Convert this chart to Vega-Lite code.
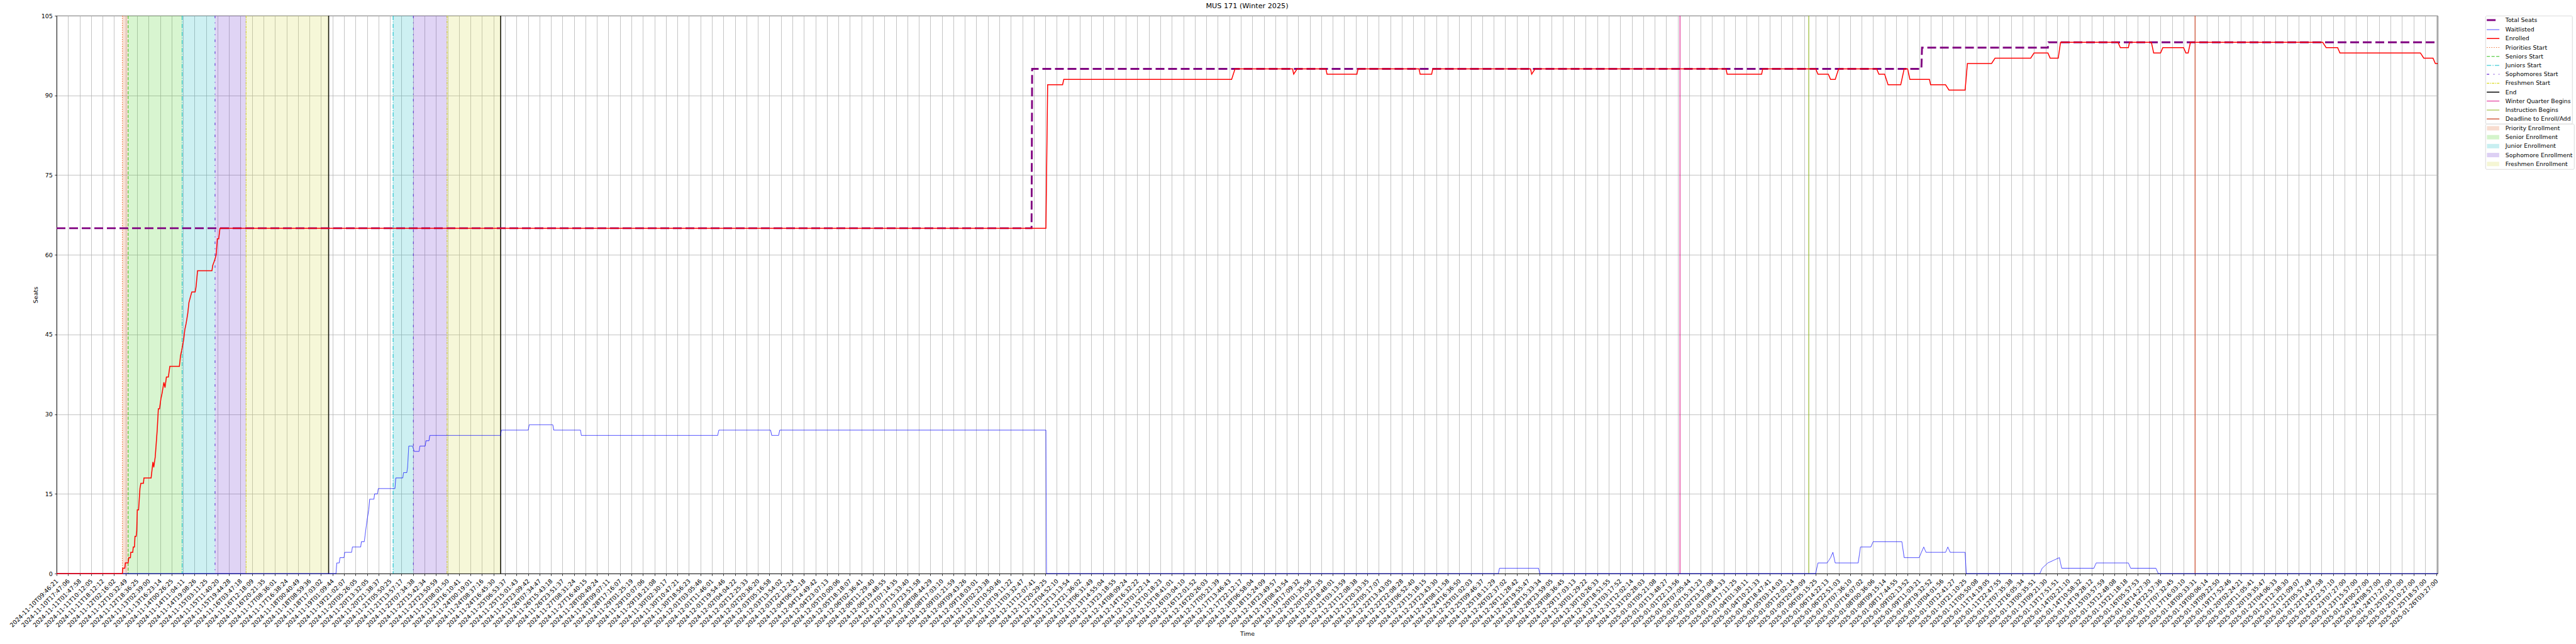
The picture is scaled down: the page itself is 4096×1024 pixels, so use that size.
{
  "$schema": "https://vega.github.io/schema/vega-lite/v6.json",
  "autosize": {"type": "none"},
  "width": 3786,
  "height": 887,
  "padding": {"left": 90, "top": 25, "right": 220, "bottom": 112},
  "title": {"text": "MUS 171 (Winter 2025)"},
  "params": [
    {"name": "L", "value": ["2024-11-10T09:46:21","2024-11-10T17:47:06","2024-11-11T01:47:58","2024-11-11T10:12:05","2024-11-11T18:12:12","2024-11-12T02:16:02","2024-11-12T10:32:49","2024-11-12T18:36:25","2024-11-13T02:39:00","2024-11-13T16:23:14","2024-11-14T00:26:25","2024-11-14T11:04:11","2024-11-14T19:08:26","2024-11-15T03:11:25","2024-11-15T11:40:20","2024-11-15T19:44:28","2024-11-16T03:47:18","2024-11-16T12:18:09","2024-11-16T20:21:35","2024-11-17T08:36:01","2024-11-17T16:38:24","2024-11-18T00:40:49","2024-11-18T08:59:36","2024-11-18T17:03:02","2024-11-19T01:09:44","2024-11-19T21:02:07","2024-11-20T05:26:05","2024-11-20T13:32:05","2024-11-20T21:38:37","2024-11-21T05:50:25","2024-11-21T13:57:17","2024-11-22T07:34:38","2024-11-22T15:42:34","2024-11-22T23:50:59","2024-11-23T08:01:50","2024-11-23T16:10:41","2024-11-24T00:19:01","2024-11-24T08:37:16","2024-11-24T16:45:30","2024-11-25T06:53:37","2024-11-25T15:01:43","2024-11-25T23:09:42","2024-11-26T07:34:47","2024-11-26T15:43:18","2024-11-26T23:51:37","2024-11-27T08:31:24","2024-11-27T16:40:15","2024-11-28T00:49:24","2024-11-28T09:07:11","2024-11-28T17:16:07","2024-11-29T01:25:19","2024-11-29T10:07:06","2024-11-29T18:21:08","2024-11-30T02:30:17","2024-11-30T10:47:21","2024-11-30T18:56:23","2024-12-01T03:05:46","2024-12-01T11:46:01","2024-12-01T19:54:46","2024-12-02T04:04:22","2024-12-02T12:25:33","2024-12-02T20:36:20","2024-12-03T05:16:58","2024-12-03T13:54:02","2024-12-03T22:12:24","2024-12-04T06:32:18","2024-12-04T14:49:42","2024-12-04T23:07:13","2024-12-05T10:00:06","2024-12-05T18:18:07","2024-12-06T02:36:41","2024-12-06T11:29:40","2024-12-06T19:48:55","2024-12-07T07:14:35","2024-12-07T15:33:40","2024-12-07T23:51:58","2024-12-08T08:44:29","2024-12-08T17:03:10","2024-12-09T01:21:59","2024-12-09T09:43:26","2024-12-09T18:03:01","2024-12-10T02:23:38","2024-12-10T10:50:46","2024-12-10T19:11:22","2024-12-11T03:32:47","2024-12-11T12:07:41","2024-12-11T20:29:25","2024-12-12T04:52:10","2024-12-12T13:13:54","2024-12-12T21:36:02","2024-12-13T06:31:49","2024-12-13T14:55:04","2024-12-13T23:18:55","2024-12-14T08:09:24","2024-12-14T16:32:22","2024-12-15T01:22:14","2024-12-15T10:18:23","2024-12-15T18:41:01","2024-12-16T03:04:10","2024-12-16T12:01:52","2024-12-16T20:26:03","2024-12-17T05:21:39","2024-12-17T13:46:43","2024-12-17T22:12:17","2024-12-18T06:58:04","2024-12-18T15:24:09","2024-12-18T23:49:57","2024-12-19T08:43:54","2024-12-19T17:09:32","2024-12-20T01:35:56","2024-12-20T10:22:35","2024-12-20T18:48:01","2024-12-21T03:13:59","2024-12-21T12:08:38","2024-12-21T20:33:35","2024-12-22T05:17:07","2024-12-22T13:43:05","2024-12-22T22:08:28","2024-12-23T06:52:40","2024-12-23T15:18:15","2024-12-23T23:43:30","2024-12-24T08:11:58","2024-12-24T16:36:50","2024-12-25T01:02:03","2024-12-25T09:46:37","2024-12-25T18:11:29","2024-12-26T02:37:02","2024-12-26T11:28:42","2024-12-26T19:55:47","2024-12-28T15:33:34","2024-12-28T23:59:05","2024-12-29T08:36:45","2024-12-29T17:03:13","2024-12-30T01:29:22","2024-12-30T10:26:33","2024-12-30T18:51:55","2024-12-31T03:17:52","2024-12-31T12:02:14","2024-12-31T20:28:03","2025-01-01T05:21:08","2025-01-01T13:48:27","2025-01-01T22:13:56","2025-01-02T07:05:44","2025-01-02T15:31:23","2025-01-02T23:57:08","2025-01-03T08:44:33","2025-01-03T17:11:25","2025-01-04T01:38:11","2025-01-04T10:21:33","2025-01-04T18:47:41","2025-01-05T03:14:03","2025-01-05T12:02:14","2025-01-05T20:29:09","2025-01-06T05:15:25","2025-01-06T14:22:13","2025-01-06T22:51:03","2025-01-07T07:36:10","2025-01-07T16:07:02","2025-01-08T00:36:06","2025-01-08T09:15:14","2025-01-08T17:44:55","2025-01-09T02:13:52","2025-01-09T11:03:21","2025-01-09T19:32:52","2025-01-10T04:01:56","2025-01-10T12:41:27","2025-01-10T21:10:25","2025-01-11T05:50:08","2025-01-11T14:19:05","2025-01-11T22:47:55","2025-01-12T07:35:38","2025-01-12T16:05:34","2025-01-13T00:35:51","2025-01-13T09:21:30","2025-01-13T17:51:51","2025-01-14T02:21:10","2025-01-14T10:58:32","2025-01-14T19:28:12","2025-01-15T03:57:59","2025-01-15T12:48:08","2025-01-15T21:18:18","2025-01-16T05:57:53","2025-01-16T14:27:30","2025-01-16T22:57:36","2025-01-17T07:32:45","2025-01-17T16:03:10","2025-01-18T00:33:31","2025-01-19T00:06:14","2025-01-19T09:22:50","2025-01-19T17:52:46","2025-01-20T02:24:21","2025-01-20T11:05:41","2025-01-20T19:35:47","2025-01-21T04:06:33","2025-01-21T12:38:30","2025-01-21T21:09:07","2025-01-22T05:57:49","2025-01-22T14:27:58","2025-01-22T22:57:10","2025-01-23T07:27:00","2025-01-23T15:57:00","2025-01-24T00:27:00","2025-01-24T08:57:00","2025-01-24T17:27:00","2025-01-25T01:57:00","2025-01-25T10:27:00","2025-01-25T18:57:00","2025-01-26T03:27:00"]}
  ],
  "datasets": {
    "shades": [
      {"s": "Priority Enrollment", "t": 5.72, "t2": 6.22},
      {"s": "Senior Enrollment", "t": 6.22, "t2": 10.92},
      {"s": "Junior Enrollment", "t": 10.92, "t2": 13.78},
      {"s": "Sophomore Enrollment", "t": 13.78, "t2": 16.48},
      {"s": "Freshmen Enrollment", "t": 16.48, "t2": 23.66},
      {"s": "Junior Enrollment", "t": 29.27, "t2": 31.03},
      {"s": "Sophomore Enrollment", "t": 31.03, "t2": 33.96},
      {"s": "Freshmen Enrollment", "t": 33.96, "t2": 38.62}
    ],
    "events": [
      {"s": "Priorities Start", "t": 5.72},
      {"s": "Seniors Start", "t": 6.22},
      {"s": "Juniors Start", "t": 10.92},
      {"s": "Sophomores Start", "t": 13.78},
      {"s": "Freshmen Start", "t": 16.48},
      {"s": "End", "t": 23.66},
      {"s": "Juniors Start", "t": 29.27},
      {"s": "Sophomores Start", "t": 31.03},
      {"s": "Freshmen Start", "t": 33.96},
      {"s": "End", "t": 38.62},
      {"s": "Winter Quarter Begins", "t": 141.2},
      {"s": "Instruction Begins", "t": 152.4},
      {"s": "Deadline to Enroll/Add", "t": 186.0}
    ],
    "lines": [
      {"s": "Total Seats", "t": 0, "v": 65},
      {"s": "Total Seats", "t": 84.8, "v": 65},
      {"s": "Total Seats", "t": 84.85, "v": 95},
      {"s": "Total Seats", "t": 162.2, "v": 95},
      {"s": "Total Seats", "t": 162.25, "v": 99},
      {"s": "Total Seats", "t": 173.2, "v": 99},
      {"s": "Total Seats", "t": 173.25, "v": 100},
      {"s": "Total Seats", "t": 207.1, "v": 100},
      {"s": "Waitlisted", "t": 0, "v": 0},
      {"s": "Waitlisted", "t": 24.3, "v": 0},
      {"s": "Waitlisted", "t": 24.37, "v": 2},
      {"s": "Waitlisted", "t": 24.58, "v": 2},
      {"s": "Waitlisted", "t": 24.65, "v": 3},
      {"s": "Waitlisted", "t": 25.0, "v": 3},
      {"s": "Waitlisted", "t": 25.06, "v": 4},
      {"s": "Waitlisted", "t": 25.66, "v": 4},
      {"s": "Waitlisted", "t": 25.73, "v": 5},
      {"s": "Waitlisted", "t": 26.45, "v": 5},
      {"s": "Waitlisted", "t": 26.51, "v": 6},
      {"s": "Waitlisted", "t": 26.76, "v": 6},
      {"s": "Waitlisted", "t": 27.0, "v": 10},
      {"s": "Waitlisted", "t": 27.15, "v": 12},
      {"s": "Waitlisted", "t": 27.23, "v": 14},
      {"s": "Waitlisted", "t": 27.6, "v": 14},
      {"s": "Waitlisted", "t": 27.66, "v": 15},
      {"s": "Waitlisted", "t": 27.91, "v": 15},
      {"s": "Waitlisted", "t": 27.98, "v": 16},
      {"s": "Waitlisted", "t": 29.43, "v": 16},
      {"s": "Waitlisted", "t": 29.5, "v": 18},
      {"s": "Waitlisted", "t": 30.11, "v": 18},
      {"s": "Waitlisted", "t": 30.18, "v": 19},
      {"s": "Waitlisted", "t": 30.46, "v": 19},
      {"s": "Waitlisted", "t": 30.53, "v": 20},
      {"s": "Waitlisted", "t": 30.63, "v": 24},
      {"s": "Waitlisted", "t": 30.95, "v": 24},
      {"s": "Waitlisted", "t": 31.11, "v": 23},
      {"s": "Waitlisted", "t": 31.53, "v": 23},
      {"s": "Waitlisted", "t": 31.6, "v": 24},
      {"s": "Waitlisted", "t": 32.06, "v": 24},
      {"s": "Waitlisted", "t": 32.13, "v": 25},
      {"s": "Waitlisted", "t": 32.39, "v": 25},
      {"s": "Waitlisted", "t": 32.46, "v": 26},
      {"s": "Waitlisted", "t": 38.61, "v": 26},
      {"s": "Waitlisted", "t": 38.69, "v": 27},
      {"s": "Waitlisted", "t": 41.02, "v": 27},
      {"s": "Waitlisted", "t": 41.11, "v": 28},
      {"s": "Waitlisted", "t": 43.16, "v": 28},
      {"s": "Waitlisted", "t": 43.24, "v": 27},
      {"s": "Waitlisted", "t": 45.57, "v": 27},
      {"s": "Waitlisted", "t": 45.64, "v": 26},
      {"s": "Waitlisted", "t": 57.5, "v": 26},
      {"s": "Waitlisted", "t": 57.6, "v": 27},
      {"s": "Waitlisted", "t": 62.1, "v": 27},
      {"s": "Waitlisted", "t": 62.2, "v": 26},
      {"s": "Waitlisted", "t": 62.8, "v": 26},
      {"s": "Waitlisted", "t": 62.9, "v": 27},
      {"s": "Waitlisted", "t": 86.05, "v": 27},
      {"s": "Waitlisted", "t": 86.1, "v": 0},
      {"s": "Waitlisted", "t": 125.4, "v": 0},
      {"s": "Waitlisted", "t": 125.5, "v": 1},
      {"s": "Waitlisted", "t": 128.9, "v": 1},
      {"s": "Waitlisted", "t": 129.0, "v": 0},
      {"s": "Waitlisted", "t": 153.0, "v": 0},
      {"s": "Waitlisted", "t": 153.2, "v": 2},
      {"s": "Waitlisted", "t": 154.0, "v": 2},
      {"s": "Waitlisted", "t": 154.3, "v": 3},
      {"s": "Waitlisted", "t": 154.5, "v": 4},
      {"s": "Waitlisted", "t": 154.7, "v": 2},
      {"s": "Waitlisted", "t": 156.7, "v": 2},
      {"s": "Waitlisted", "t": 156.9, "v": 5},
      {"s": "Waitlisted", "t": 157.8, "v": 5},
      {"s": "Waitlisted", "t": 158.0, "v": 6},
      {"s": "Waitlisted", "t": 160.5, "v": 6},
      {"s": "Waitlisted", "t": 160.7, "v": 3},
      {"s": "Waitlisted", "t": 162.0, "v": 3},
      {"s": "Waitlisted", "t": 162.2, "v": 4},
      {"s": "Waitlisted", "t": 162.4, "v": 5},
      {"s": "Waitlisted", "t": 162.6, "v": 4},
      {"s": "Waitlisted", "t": 164.3, "v": 4},
      {"s": "Waitlisted", "t": 164.5, "v": 5},
      {"s": "Waitlisted", "t": 164.7, "v": 4},
      {"s": "Waitlisted", "t": 166.0, "v": 4},
      {"s": "Waitlisted", "t": 166.1, "v": 0},
      {"s": "Waitlisted", "t": 172.5, "v": 0},
      {"s": "Waitlisted", "t": 172.7, "v": 1},
      {"s": "Waitlisted", "t": 173.2, "v": 2},
      {"s": "Waitlisted", "t": 174.2, "v": 3},
      {"s": "Waitlisted", "t": 174.4, "v": 1},
      {"s": "Waitlisted", "t": 177.2, "v": 1},
      {"s": "Waitlisted", "t": 177.4, "v": 2},
      {"s": "Waitlisted", "t": 180.2, "v": 2},
      {"s": "Waitlisted", "t": 180.4, "v": 1},
      {"s": "Waitlisted", "t": 182.6, "v": 1},
      {"s": "Waitlisted", "t": 182.8, "v": 0},
      {"s": "Waitlisted", "t": 207.1, "v": 0},
      {"s": "Enrolled", "t": 0, "v": 0},
      {"s": "Enrolled", "t": 5.72, "v": 0},
      {"s": "Enrolled", "t": 5.75, "v": 1},
      {"s": "Enrolled", "t": 5.93, "v": 1},
      {"s": "Enrolled", "t": 5.98, "v": 2},
      {"s": "Enrolled", "t": 6.22, "v": 2},
      {"s": "Enrolled", "t": 6.28, "v": 3},
      {"s": "Enrolled", "t": 6.42, "v": 3},
      {"s": "Enrolled", "t": 6.45, "v": 4},
      {"s": "Enrolled", "t": 6.62, "v": 4},
      {"s": "Enrolled", "t": 6.67, "v": 5},
      {"s": "Enrolled", "t": 6.77, "v": 5},
      {"s": "Enrolled", "t": 6.82, "v": 7},
      {"s": "Enrolled", "t": 6.92, "v": 7},
      {"s": "Enrolled", "t": 6.97, "v": 8},
      {"s": "Enrolled", "t": 7.02, "v": 12},
      {"s": "Enrolled", "t": 7.13, "v": 12},
      {"s": "Enrolled", "t": 7.25, "v": 16},
      {"s": "Enrolled", "t": 7.33, "v": 17},
      {"s": "Enrolled", "t": 7.55, "v": 17},
      {"s": "Enrolled", "t": 7.6, "v": 18},
      {"s": "Enrolled", "t": 8.22, "v": 18},
      {"s": "Enrolled", "t": 8.38, "v": 21},
      {"s": "Enrolled", "t": 8.45, "v": 20},
      {"s": "Enrolled", "t": 8.58, "v": 22},
      {"s": "Enrolled", "t": 8.75, "v": 27},
      {"s": "Enrolled", "t": 8.85, "v": 31},
      {"s": "Enrolled", "t": 8.95, "v": 31},
      {"s": "Enrolled", "t": 9.08, "v": 33},
      {"s": "Enrolled", "t": 9.18, "v": 34},
      {"s": "Enrolled", "t": 9.33, "v": 36},
      {"s": "Enrolled", "t": 9.43, "v": 35},
      {"s": "Enrolled", "t": 9.55, "v": 37},
      {"s": "Enrolled", "t": 9.72, "v": 37},
      {"s": "Enrolled", "t": 9.85, "v": 39},
      {"s": "Enrolled", "t": 10.68, "v": 39},
      {"s": "Enrolled", "t": 10.78, "v": 41},
      {"s": "Enrolled", "t": 10.88, "v": 42},
      {"s": "Enrolled", "t": 11.05, "v": 44},
      {"s": "Enrolled", "t": 11.16, "v": 46},
      {"s": "Enrolled", "t": 11.26, "v": 47},
      {"s": "Enrolled", "t": 11.41, "v": 49},
      {"s": "Enrolled", "t": 11.51, "v": 51},
      {"s": "Enrolled", "t": 11.63, "v": 52},
      {"s": "Enrolled", "t": 11.76, "v": 53},
      {"s": "Enrolled", "t": 12.05, "v": 53},
      {"s": "Enrolled", "t": 12.13, "v": 54},
      {"s": "Enrolled", "t": 12.26, "v": 57},
      {"s": "Enrolled", "t": 13.51, "v": 57},
      {"s": "Enrolled", "t": 13.58, "v": 58},
      {"s": "Enrolled", "t": 13.75, "v": 59},
      {"s": "Enrolled", "t": 13.88, "v": 60},
      {"s": "Enrolled", "t": 13.98, "v": 63},
      {"s": "Enrolled", "t": 14.1, "v": 63},
      {"s": "Enrolled", "t": 14.21, "v": 65},
      {"s": "Enrolled", "t": 86.05, "v": 65},
      {"s": "Enrolled", "t": 86.2, "v": 92},
      {"s": "Enrolled", "t": 87.5, "v": 92},
      {"s": "Enrolled", "t": 87.6, "v": 93},
      {"s": "Enrolled", "t": 102.2, "v": 93},
      {"s": "Enrolled", "t": 102.5, "v": 95},
      {"s": "Enrolled", "t": 107.5, "v": 95},
      {"s": "Enrolled", "t": 107.6, "v": 94},
      {"s": "Enrolled", "t": 107.9, "v": 95},
      {"s": "Enrolled", "t": 110.4, "v": 95},
      {"s": "Enrolled", "t": 110.5, "v": 94},
      {"s": "Enrolled", "t": 113.1, "v": 94},
      {"s": "Enrolled", "t": 113.2, "v": 95},
      {"s": "Enrolled", "t": 118.5, "v": 95},
      {"s": "Enrolled", "t": 118.6, "v": 94},
      {"s": "Enrolled", "t": 119.6, "v": 94},
      {"s": "Enrolled", "t": 119.7, "v": 95},
      {"s": "Enrolled", "t": 128.2, "v": 95},
      {"s": "Enrolled", "t": 128.3, "v": 94},
      {"s": "Enrolled", "t": 128.6, "v": 95},
      {"s": "Enrolled", "t": 145.2, "v": 95},
      {"s": "Enrolled", "t": 145.3, "v": 94},
      {"s": "Enrolled", "t": 148.3, "v": 94},
      {"s": "Enrolled", "t": 148.4, "v": 95},
      {"s": "Enrolled", "t": 153.0, "v": 95},
      {"s": "Enrolled", "t": 153.2, "v": 94},
      {"s": "Enrolled", "t": 154.1, "v": 94},
      {"s": "Enrolled", "t": 154.3, "v": 93},
      {"s": "Enrolled", "t": 154.7, "v": 93},
      {"s": "Enrolled", "t": 155.0, "v": 95},
      {"s": "Enrolled", "t": 158.3, "v": 95},
      {"s": "Enrolled", "t": 158.5, "v": 94},
      {"s": "Enrolled", "t": 159.0, "v": 94},
      {"s": "Enrolled", "t": 159.3, "v": 92},
      {"s": "Enrolled", "t": 160.4, "v": 92},
      {"s": "Enrolled", "t": 160.7, "v": 95},
      {"s": "Enrolled", "t": 161.0, "v": 95},
      {"s": "Enrolled", "t": 161.2, "v": 93},
      {"s": "Enrolled", "t": 162.9, "v": 93},
      {"s": "Enrolled", "t": 163.0, "v": 92},
      {"s": "Enrolled", "t": 164.3, "v": 92},
      {"s": "Enrolled", "t": 164.6, "v": 91},
      {"s": "Enrolled", "t": 166.0, "v": 91},
      {"s": "Enrolled", "t": 166.2, "v": 96},
      {"s": "Enrolled", "t": 168.3, "v": 96},
      {"s": "Enrolled", "t": 168.6, "v": 97},
      {"s": "Enrolled", "t": 171.7, "v": 97},
      {"s": "Enrolled", "t": 172.0, "v": 98},
      {"s": "Enrolled", "t": 173.2, "v": 98},
      {"s": "Enrolled", "t": 173.4, "v": 97},
      {"s": "Enrolled", "t": 174.1, "v": 97},
      {"s": "Enrolled", "t": 174.3, "v": 100},
      {"s": "Enrolled", "t": 179.3, "v": 100},
      {"s": "Enrolled", "t": 179.5, "v": 99},
      {"s": "Enrolled", "t": 180.2, "v": 99},
      {"s": "Enrolled", "t": 180.3, "v": 100},
      {"s": "Enrolled", "t": 182.2, "v": 100},
      {"s": "Enrolled", "t": 182.4, "v": 98},
      {"s": "Enrolled", "t": 183.0, "v": 98},
      {"s": "Enrolled", "t": 183.2, "v": 99},
      {"s": "Enrolled", "t": 185.0, "v": 99},
      {"s": "Enrolled", "t": 185.2, "v": 98},
      {"s": "Enrolled", "t": 185.4, "v": 98},
      {"s": "Enrolled", "t": 185.6, "v": 100},
      {"s": "Enrolled", "t": 197.1, "v": 100},
      {"s": "Enrolled", "t": 197.4, "v": 99},
      {"s": "Enrolled", "t": 198.4, "v": 99},
      {"s": "Enrolled", "t": 198.6, "v": 98},
      {"s": "Enrolled", "t": 205.6, "v": 98},
      {"s": "Enrolled", "t": 205.9, "v": 97},
      {"s": "Enrolled", "t": 206.7, "v": 97},
      {"s": "Enrolled", "t": 206.9, "v": 96},
      {"s": "Enrolled", "t": 207.1, "v": 96}
    ]
  },
  "encoding": {
    "x": {
      "field": "t",
      "type": "quantitative",
      "scale": {"domain": [0, 207.1], "nice": false, "zero": false},
      "axis": {
        "title": "Time",
        "values": [0,1,2,3,4,5,6,7,8,9,10,11,12,13,14,15,16,17,18,19,20,21,22,23,24,25,26,27,28,29,30,31,32,33,34,35,36,37,38,39,40,41,42,43,44,45,46,47,48,49,50,51,52,53,54,55,56,57,58,59,60,61,62,63,64,65,66,67,68,69,70,71,72,73,74,75,76,77,78,79,80,81,82,83,84,85,86,87,88,89,90,91,92,93,94,95,96,97,98,99,100,101,102,103,104,105,106,107,108,109,110,111,112,113,114,115,116,117,118,119,120,121,122,123,124,125,126,127,128,129,130,131,132,133,134,135,136,137,138,139,140,141,142,143,144,145,146,147,148,149,150,151,152,153,154,155,156,157,158,159,160,161,162,163,164,165,166,167,168,169,170,171,172,173,174,175,176,177,178,179,180,181,182,183,184,185,186,187,188,189,190,191,192,193,194,195,196,197,198,199,200,201,202,203,204,205,206,207],
        "labelExpr": "L[datum.value]",
        "labelAngle": -45,
        "labelAlign": "right",
        "labelBaseline": "top",
        "labelOffset": -3,
        "labelOverlap": false,
        "labelBound": false,
        "labelFlush": false,
        "titlePadding": 4
      }
    },
    "color": {"field": "s", "type": "nominal",
      "scale": {"domain": ["Total Seats","Waitlisted","Enrolled","Priorities Start","Seniors Start","Juniors Start","Sophomores Start","Freshmen Start","End","Winter Quarter Begins","Instruction Begins","Deadline to Enroll/Add"],
                "range": ["#800080","#0000ff","#ff0000","#ee6a2c","#36c21c","#10bfcc","#6a2ad6","#dada20","#000000","#dd1188","#8db31c","#cc3e1c"]},
      "legend": {"title": null, "orient": "right", "offset": 70, "padding": 2.3, "symbolType": "M-4,0H4", "symbolSize": 25, "symbolOffset": 5.2, "labelOffset": 15, "labelFont": "DejaVu Sans", "labelFontSize": 9.3, "labelColor": "#000000", "labelLimit": 0, "rowPadding": 4.2, "strokeColor": "#cccccc", "cornerRadius": 2, "fillColor": "#ffffff"}},
    "strokeDash": {"field": "s", "type": "nominal",
      "scale": {"domain": ["Total Seats","Waitlisted","Enrolled","Priorities Start","Seniors Start","Juniors Start","Sophomores Start","Freshmen Start","End","Winter Quarter Begins","Instruction Begins","Deadline to Enroll/Add"],
                "range": [[14,6],[1,0],[1,0],[1.4,2.3],[5,2.5],[7,2.2,1.4,2.2],[3.9,6.8,1.4,6.8],[3.9,1.4,1.4,1.4],[1,0],[1,0],[1,0],[1,0]]},
      "legend": {"title": null, "orient": "right", "offset": 70, "padding": 2.3, "symbolType": "M-4,0H4", "symbolSize": 25, "symbolOffset": 5.2, "labelOffset": 15, "labelFont": "DejaVu Sans", "labelFontSize": 9.3, "labelColor": "#000000", "labelLimit": 0, "rowPadding": 4.2, "strokeColor": "#cccccc", "cornerRadius": 2, "fillColor": "#ffffff"}},
    "strokeWidth": {"field": "s", "type": "ordinal",
      "scale": {"type": "ordinal", "domain": ["Total Seats","Waitlisted","Enrolled","Priorities Start","Seniors Start","Juniors Start","Sophomores Start","Freshmen Start","End","Winter Quarter Begins","Instruction Begins","Deadline to Enroll/Add"],
                "range": [2.9,0.75,1.5,1.1,1.1,1.1,1.1,1.1,1.6,1.1,1.1,1.1]},
      "legend": {"title": null, "orient": "right", "offset": 70, "padding": 2.3, "symbolType": "M-4,0H4", "symbolSize": 25, "symbolOffset": 5.2, "labelOffset": 15, "labelFont": "DejaVu Sans", "labelFontSize": 9.3, "labelColor": "#000000", "labelLimit": 0, "rowPadding": 4.2, "strokeColor": "#cccccc", "cornerRadius": 2, "fillColor": "#ffffff"}}
  },
  "layer": [
    {
      "data": {"name": "events"},
      "mark": {"type": "rule"}
    },
    {
      "data": {"name": "shades"},
      "mark": {"type": "rect", "fillOpacity": 0.2, "strokeWidth": 0},
      "encoding": {
        "color": null,
        "strokeDash": null,
        "strokeWidth": null,
        "x2": {"field": "t2"},
        "y": {"datum": 0, "type": "quantitative", "scale": {"domain": [0, 105], "nice": false, "zero": true}, "axis": {"title": "Seats", "values": [0,15,30,45,60,75,90,105], "titlePadding": 4}},
        "y2": {"datum": 105},
        "fill": {
          "field": "s",
          "type": "nominal",
          "scale": {
            "domain": ["Priority Enrollment","Senior Enrollment","Junior Enrollment","Sophomore Enrollment","Freshmen Enrollment"],
            "range": ["#e06428","#3ccd14","#05b4be","#6428cd","#d2d73c"]
          },
          "legend": {"title": null, "orient": "right", "offset": 70, "padding": 2.3, "symbolType": "M-3.9,-1.4H3.9V1.4H-3.9Z", "symbolSize": 25, "symbolOpacity": 0.22, "symbolStrokeWidth": 0, "symbolOffset": 5.2, "labelOffset": 15, "labelFont": "DejaVu Sans", "labelFontSize": 9.3, "labelColor": "#000000", "labelLimit": 0, "rowPadding": 4.2, "strokeColor": "#cccccc", "cornerRadius": 2, "fillColor": "#ffffff"}
        }
      }
    },
    {
      "data": {"name": "lines"},
      "transform": [{"filter": "datum.s === 'Total Seats'"}],
      "mark": {"type": "line"},
      "encoding": {
        "y": {"field": "v", "type": "quantitative", "scale": {"domain": [0, 105], "nice": false, "zero": true}, "axis": {"title": "Seats", "values": [0,15,30,45,60,75,90,105], "titlePadding": 4}}
      }
    },
    {
      "data": {"name": "lines"},
      "transform": [{"filter": "datum.s === 'Waitlisted'"}],
      "mark": {"type": "line"},
      "encoding": {
        "y": {"field": "v", "type": "quantitative", "scale": {"domain": [0, 105], "nice": false, "zero": true}, "axis": {"title": "Seats", "values": [0,15,30,45,60,75,90,105], "titlePadding": 4}}
      }
    },
    {
      "data": {"name": "lines"},
      "transform": [{"filter": "datum.s === 'Enrolled'"}],
      "mark": {"type": "line"},
      "encoding": {
        "y": {"field": "v", "type": "quantitative", "scale": {"domain": [0, 105], "nice": false, "zero": true}, "axis": {"title": "Seats", "values": [0,15,30,45,60,75,90,105], "titlePadding": 4}}
      }
    }
  ],
  "config": {
    "font": "DejaVu Sans",
    "view": {"stroke": "#000000", "strokeWidth": 0.75},
    "title": {"font": "DejaVu Sans", "fontSize": 11.2, "fontWeight": "normal", "color": "#000000", "anchor": "middle", "offset": 5},
    "axis": {
      "labelFont": "DejaVu Sans", "labelFontSize": 9.5, "labelColor": "#000000",
      "titleFont": "DejaVu Sans", "titleFontSize": 9.5, "titleFontWeight": "normal", "titleColor": "#000000",
      "grid": true, "gridColor": "#b0b0b0", "gridWidth": 0.75, "gridOpacity": 1,
      "tickColor": "#000000", "tickSize": 3.3, "tickWidth": 0.75,
      "domainColor": "#000000", "domainWidth": 0.75,
      "labelPadding": 3.3
    },
    "legend": {
      "offset": 70, "padding": 2.3,
      "strokeColor": "#cccccc", "strokeWidth": 0.75, "cornerRadius": 2, "fillColor": "#ffffff",
      "labelFont": "DejaVu Sans", "labelFontSize": 9.3, "labelColor": "#000000", "labelLimit": 0,
      "rowPadding": 4.2, "symbolSize": 25, "symbolOffset": 5.2, "labelOffset": 15,
      "layout": {"right": {"direction": "vertical", "anchor": "start", "margin": 0}}
    }
  }
}
